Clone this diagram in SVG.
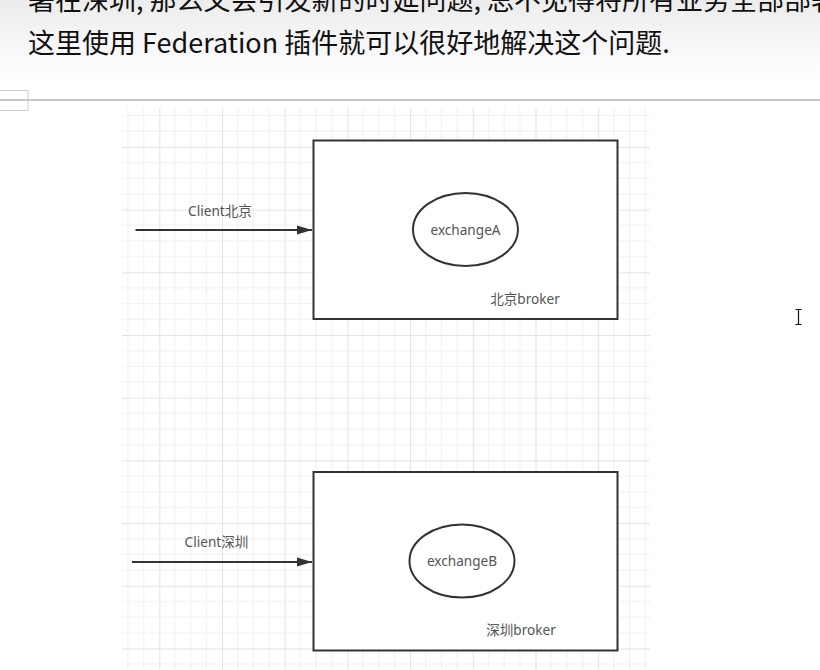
<svg xmlns="http://www.w3.org/2000/svg" width="820" height="670" viewBox="0 0 820 670">
  <defs>
    <linearGradient id="topShade" x1="0" y1="0" x2="0" y2="1">
      <stop offset="0" stop-color="#ececec"/>
      <stop offset="1" stop-color="#ffffff"/>
    </linearGradient>
    <pattern id="grid" patternUnits="userSpaceOnUse" x="33.9" y="21.5" width="62.7" height="62.7">
      <path d="M15.675 0V62.7M31.35 0V62.7M47.025 0V62.7M0 15.675H62.7M0 31.35H62.7M0 47.025H62.7" stroke="#f0f0f0" stroke-width="1" fill="none"/>
      <path d="M0.5 0V62.7M0 0.5H62.7" stroke="#e3e3e3" stroke-width="1" fill="none"/>
    </pattern>
    <marker id="arrow" markerUnits="userSpaceOnUse" markerWidth="16" markerHeight="12" refX="15" refY="5" orient="auto">
      <path d="M0 0.5L15 5L0 9.5Z" fill="#333333"/>
    </marker>
    <style>
      .doc { font-family: "Noto Sans CJK SC", "Noto Sans", sans-serif; font-size: 27px; fill: #111111; }
      .lbl { font-family: "Noto Sans", "Noto Sans CJK SC", sans-serif; font-size: 13.6px; fill: #555555; text-anchor: middle; }
      .box { fill: #ffffff; stroke: #333333; stroke-width: 2; }
      .ell { fill: #ffffff; stroke: #333333; stroke-width: 2; }
      .edge { stroke: #333333; stroke-width: 2; fill: none; }
    </style>
  </defs>

  <!-- page background -->
  <rect x="0" y="0" width="820" height="670" fill="#ffffff"/>
  <rect x="0" y="0" width="820" height="80" fill="url(#topShade)"/>

  <!-- document text -->
  <text class="doc" x="28" y="10">署在深圳, 那么又会引发新的时延问题, 总不见得将所有业务全部部署</text>
  <text class="doc" x="28" y="53">这里使用 Federation 插件就可以很好地解决这个问题.</text>

  <!-- separator and table handle -->
  <rect x="-1" y="90.5" width="29" height="20" fill="none" stroke="#cccccc" stroke-width="1"/>
  <line x1="0" y1="100" x2="820" y2="100" stroke="#c8c8c8" stroke-width="2"/>

  <!-- grid canvas -->
  <rect x="122" y="108" width="528" height="562" fill="url(#grid)"/>

  <!-- nodes -->
  <g id="broker-beijing">
    <rect class="box" x="313.5" y="140.5" width="304" height="178.5"/>
    <text class="lbl" x="525" y="304">北京broker</text>
  </g>
  <g id="exchangeA">
    <ellipse class="ell" cx="465.5" cy="229.5" rx="52.5" ry="36.5"/>
    <text class="lbl" x="465.5" y="235">exchangeA</text>
  </g>
  <g id="broker-shenzhen">
    <rect class="box" x="313.5" y="472" width="304" height="178.5"/>
    <text class="lbl" x="521" y="635">深圳broker</text>
  </g>
  <g id="exchangeB">
    <ellipse class="ell" cx="462" cy="561" rx="52.5" ry="36.5"/>
    <text class="lbl" x="462" y="566">exchangeB</text>
  </g>

  <!-- connectors -->
  <g id="connectors">
    <g id="edge-client-beijing">
      <line class="edge" x1="135.5" y1="230" x2="312" y2="230" marker-end="url(#arrow)"/>
      <text class="lbl" x="220" y="216">Client北京</text>
    </g>
    <g id="edge-client-shenzhen">
      <line class="edge" x1="132" y1="562" x2="312" y2="562" marker-end="url(#arrow)"/>
      <text class="lbl" x="216.5" y="547">Client深圳</text>
    </g>
  </g>

  <!-- text cursor -->
  <path d="M795.5 309.5H801.5M798.5 309.5V324.5M795.5 324.5H801.5" stroke="#111111" stroke-width="1.2" fill="none"/>
</svg>
